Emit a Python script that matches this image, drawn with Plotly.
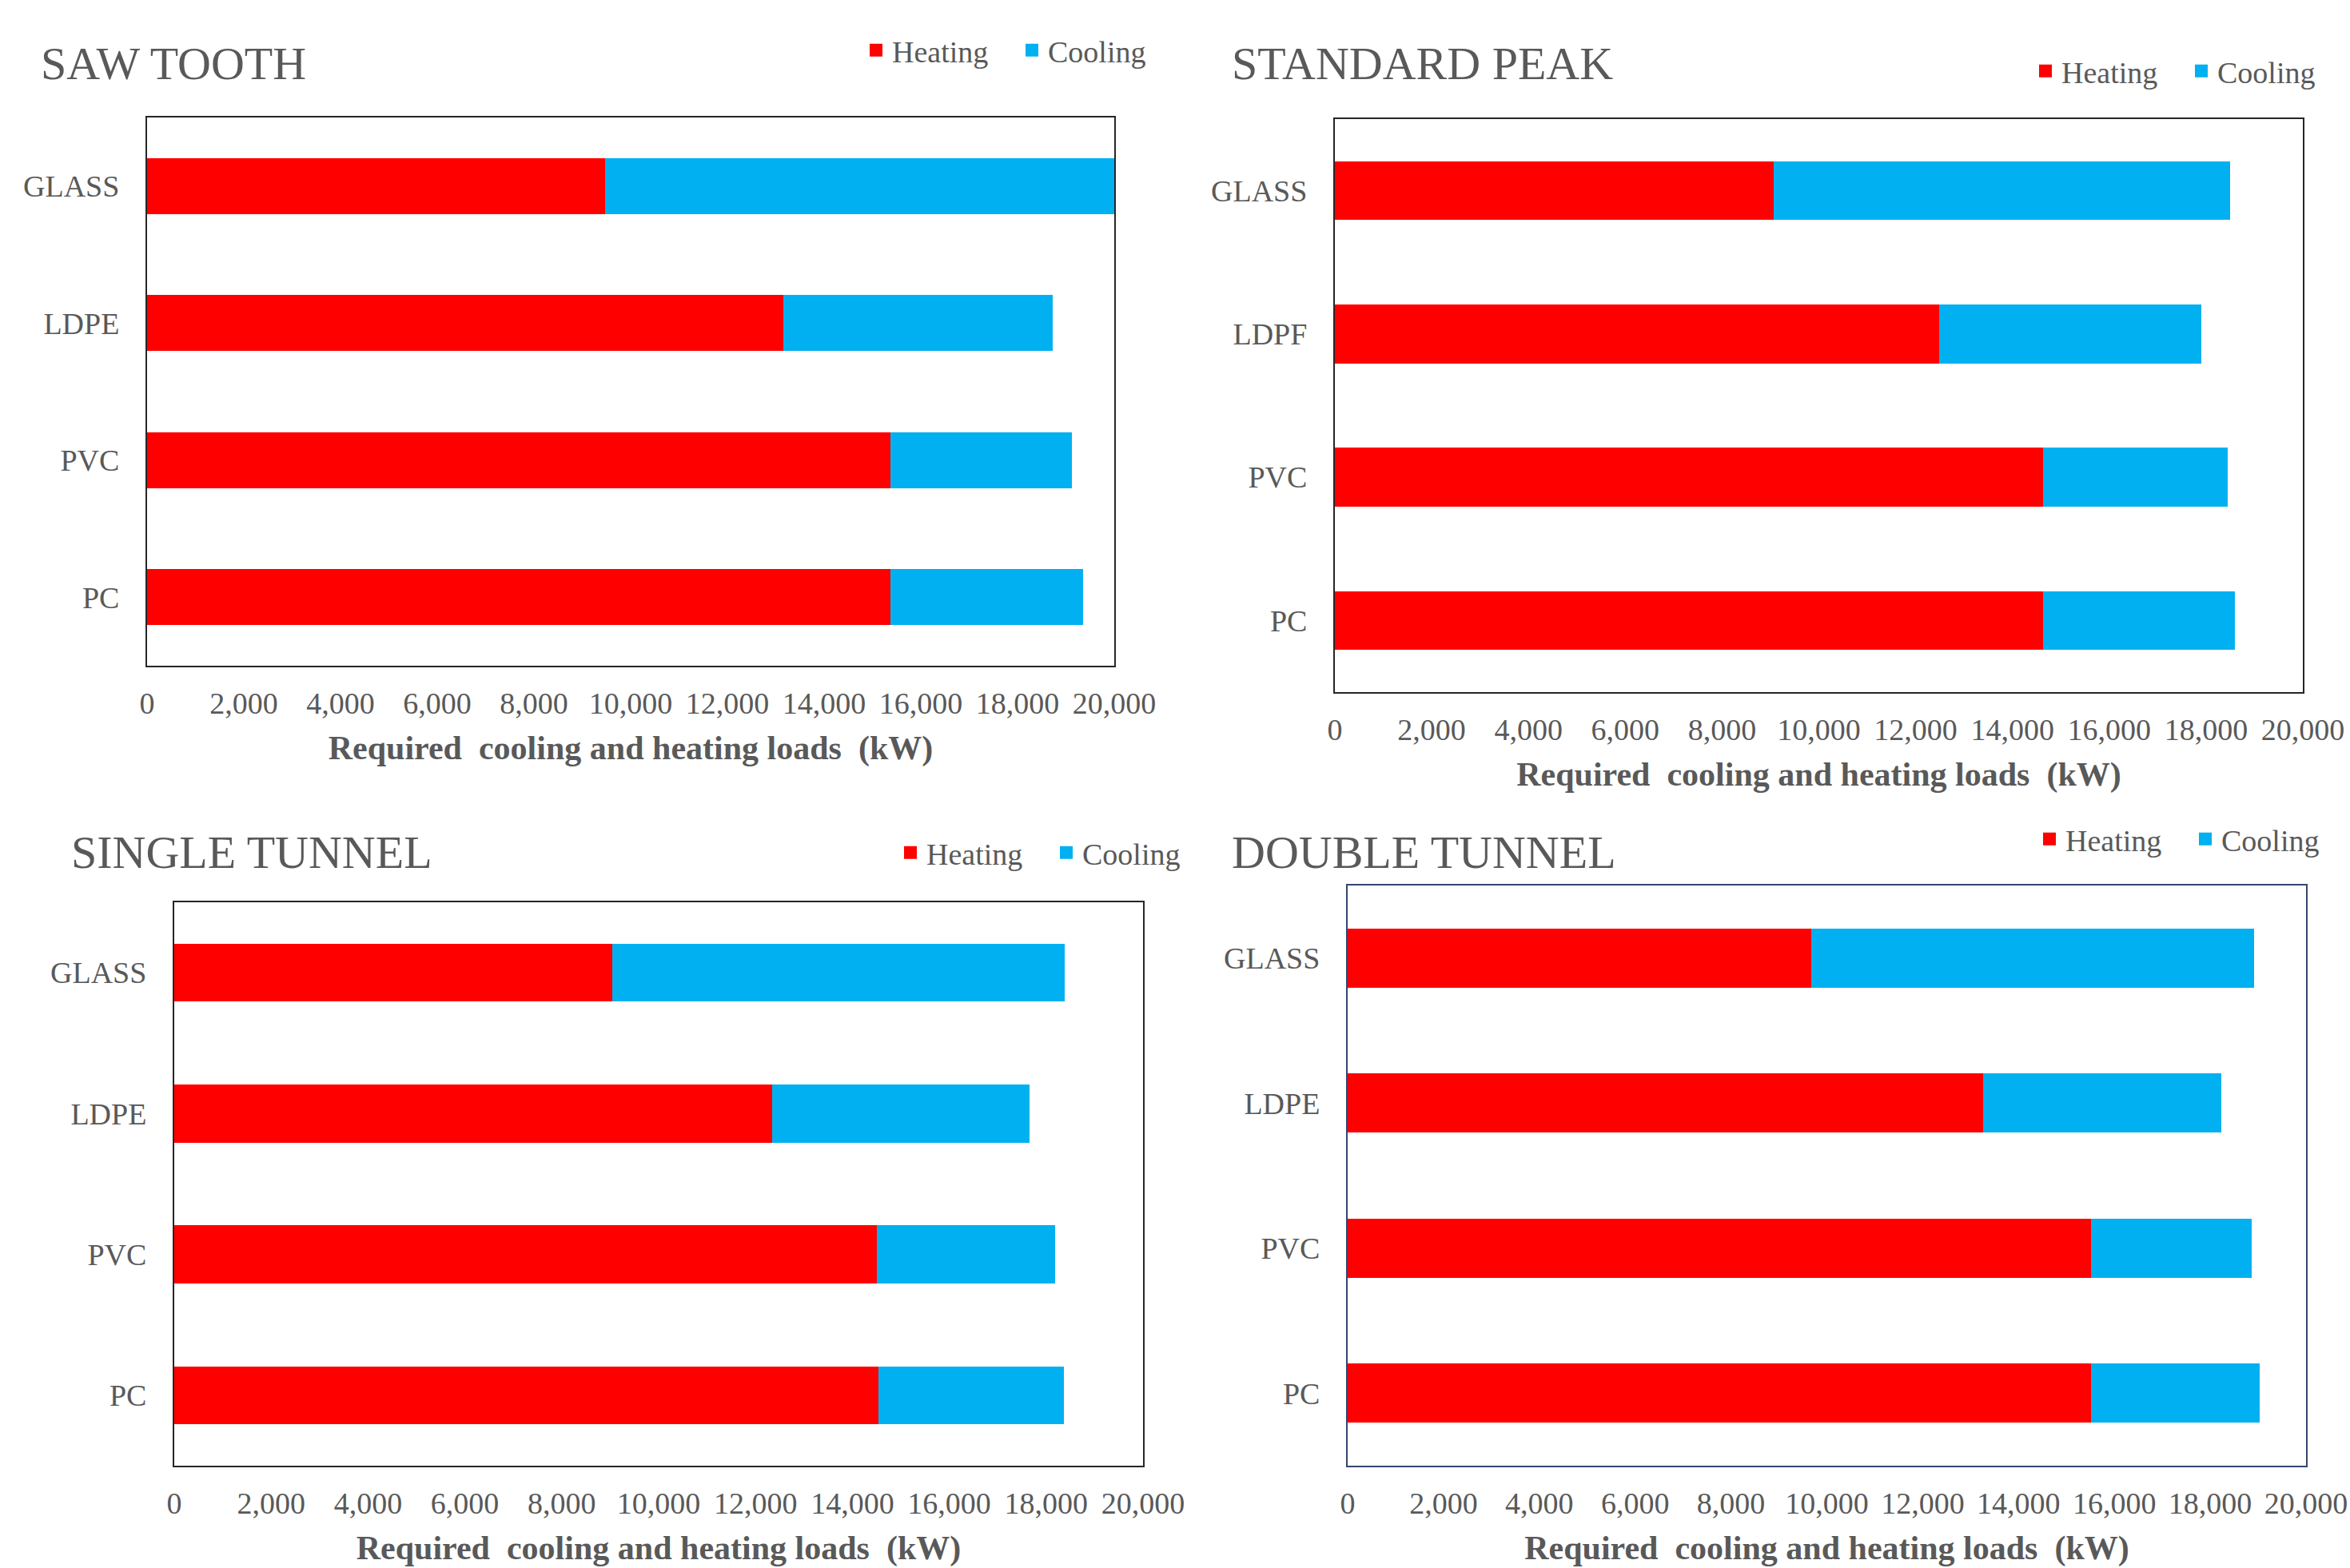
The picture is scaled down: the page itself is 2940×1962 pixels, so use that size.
import plotly.graph_objects as go

W, H = 2940, 1962

categories_saw = ["GLASS", "LDPE", "PVC", "PC"]
heating_saw = [9470, 13150, 15380, 15380]
cooling_saw = [10530, 5580, 3750, 3980]

categories_std = ["GLASS", "LDPF", "PVC", "PC"]
heating_std = [9070, 12480, 14640, 14640]
cooling_std = [9430, 5420, 3800, 3950]

categories_single = ["GLASS", "LDPE", "PVC", "PC"]
heating_single = [9040, 12340, 14500, 14540]
cooling_single = [9350, 5310, 3690, 3820]

categories_double = ["GLASS", "LDPE", "PVC", "PC"]
heating_double = [9680, 13260, 15510, 15510]
cooling_double = [9240, 4970, 3360, 3520]

titles = ["SAW TOOTH", "STANDARD PEAK", "SINGLE TUNNEL", "DOUBLE TUNNEL"]
x_ticks = list(range(0, 20001, 2000))
x_title = "Required  cooling and heating loads  (kW)"

FONT = "Liberation Serif"
GREY = "#595959"
RED = "#FF0000"
BLUE = "#00B0F0"

# layout geometry in pixels: (x0, x1, y0_top, y1_bottom)
boxes = [(184, 1394, 147, 833), (1670, 2881, 149, 866),
         (218, 1430, 1129, 1834), (1686, 2885, 1108, 1834)]
border_colors = ["#262626", "#262626", "#262626", "#34456E"]
title_pos = [(53, 79), (1543, 79), (91, 1066), (1543, 1066)]
legend_pos = [(1087, 63), (2550, 89), (1130, 1067), (2555, 1050)]

panels = [
    (categories_saw, heating_saw, cooling_saw),
    (categories_std, heating_std, cooling_std),
    (categories_single, heating_single, cooling_single),
    (categories_double, heating_double, cooling_double),
]

fig = go.Figure()
layout = dict(
    width=W, height=H, margin=dict(l=0, r=0, t=0, b=0, autoexpand=False),
    paper_bgcolor="white", plot_bgcolor="white",
    barmode="stack", bargap=0.59, showlegend=True,
    font=dict(family=FONT, color=GREY, size=36),
    annotations=[],
)

for i, (cats, heat, cool) in enumerate(panels):
    n = i + 1
    xa = "x" if n == 1 else f"x{n}"
    ya = "y" if n == 1 else f"y{n}"
    lg = "legend" if n == 1 else f"legend{n}"
    fig.add_trace(go.Bar(y=cats, x=heat, orientation="h", name="Heating",
                         marker=dict(color=RED, line=dict(width=0)),
                         xaxis=xa, yaxis=ya, showlegend=False))
    fig.add_trace(go.Bar(y=cats, x=cool, orientation="h", name="Cooling",
                         marker=dict(color=BLUE, line=dict(width=0)),
                         xaxis=xa, yaxis=ya, showlegend=False))
    # legend keys (square swatches)
    for name, col in (("Heating", RED), ("Cooling", BLUE)):
        fig.add_trace(go.Scatter(x=[None], y=[None], mode="markers", name=name,
                                 marker=dict(symbol="square", size=18, color=col),
                                 xaxis=xa, yaxis=ya, legend=lg, showlegend=True,
                                 hoverinfo="skip"))
    x0, x1, yt, yb = boxes[i]
    xkey = "xaxis" if n == 1 else f"xaxis{n}"
    ykey = "yaxis" if n == 1 else f"yaxis{n}"
    layout[xkey] = dict(
        domain=[x0 / W, x1 / W], anchor=ya, range=[0, 20000],
        tickvals=x_ticks, tickformat=",d", showgrid=False, zeroline=False,
        showline=True, mirror=True, linecolor=border_colors[i], linewidth=2,
        ticks="", ticklabelstandoff=12, automargin=False,
        tickfont=dict(family=FONT, size=38, color=GREY),
        title=dict(text=f"<b>{x_title}</b>", standoff=21,
                   font=dict(family=FONT, size=42, color=GREY)),
        fixedrange=True,
    )
    layout[ykey] = dict(
        domain=[1 - yb / H, 1 - yt / H], anchor=xa,
        categoryorder="array", categoryarray=cats, autorange="reversed",
        showgrid=False, zeroline=False, showline=True, mirror=True,
        linecolor=border_colors[i], linewidth=2, ticks="",
        ticklabelstandoff=25, automargin=False,
        tickfont=dict(family=FONT, size=38, color=GREY),
        fixedrange=True,
    )
    lx, ly = legend_pos[i]
    layout[lg] = dict(
        orientation="h", x=(lx - 11) / W, y=1 - ly / H,
        xanchor="left", yanchor="middle", xref="paper", yref="paper",
        font=dict(family=FONT, size=38, color=GREY), traceorder="normal",
        bgcolor="rgba(0,0,0,0)", borderwidth=0, itemsizing="trace",
        entrywidth=150, entrywidthmode="pixels", itemclick=False,
    )
    tx, ty = title_pos[i]
    layout["annotations"].append(dict(
        text=titles[i], xref="paper", yref="paper", x=(tx - 4) / W, y=1 - ty / H,
        xanchor="left", yanchor="middle", showarrow=False,
        font=dict(family=FONT, size=58, color=GREY),
    ))

fig.update_layout(**layout)
fig.write_html("out.html")
